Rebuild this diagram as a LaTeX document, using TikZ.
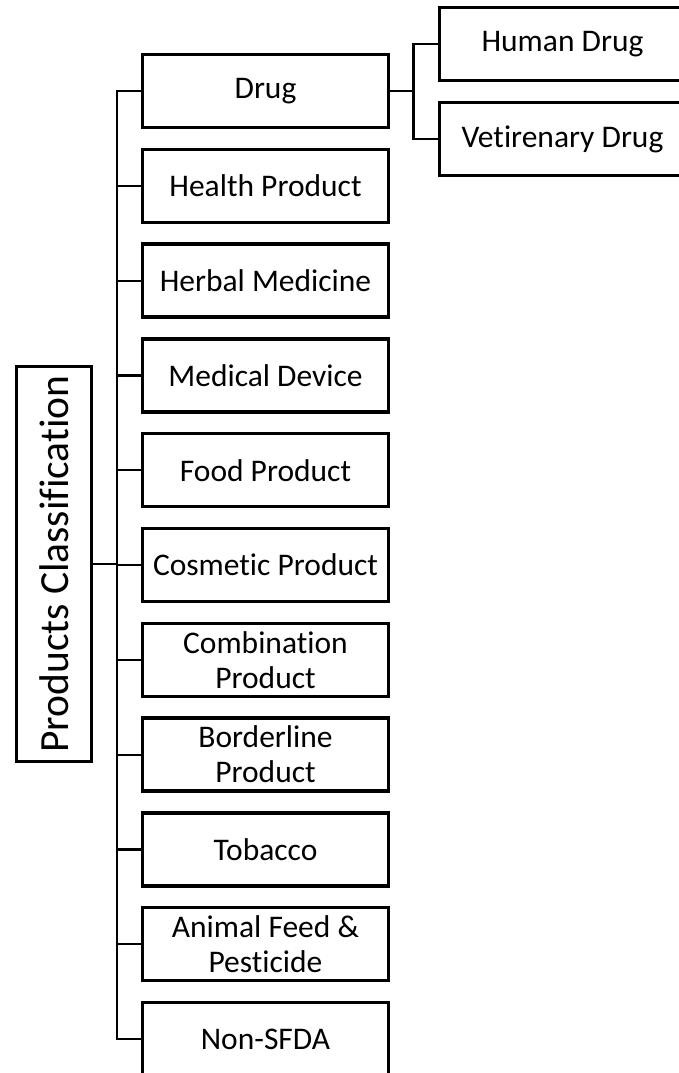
\documentclass[tikz,border=0pt]{standalone}
\usepackage{fontspec}
\setmainfont{Carlito}[Ligatures=CommonOff]
\usetikzlibrary{positioning}

\begin{document}
\begin{tikzpicture}[
  x=1pt, y=1pt,
  catbox/.style={rectangle, draw=black, line width=3.4pt, fill=white, outer sep=0pt, inner sep=2pt, minimum width=246pt, minimum height=73pt, align=center, font=\fontsize{31.5}{35}\selectfont},
  titlebox/.style={rectangle, draw=black, line width=3.2pt, fill=white, outer sep=0pt, inner sep=2pt, minimum width=395pt, minimum height=75pt, rotate=90, font=\fontsize{41.5}{46}\selectfont},
  link/.style={draw=black, line width=2.2pt}
]
\useasboundingbox (0,0) rectangle (678,-1073);
% main column
\node[catbox] (drug) at (265.5,-91) {Drug};
\node[catbox, below=21.8pt of drug] (health) {Health Product};
\node[catbox, below=21.8pt of health] (herbal) {Herbal Medicine};
\node[catbox, below=21.8pt of herbal] (device) {Medical Device};
\node[catbox, below=21.8pt of device] (food) {Food Product};
\node[catbox, below=21.8pt of food] (cosmetic) {Cosmetic Product};
\node[catbox, below=21.8pt of cosmetic] (combo) {Combination\\Product};
\node[catbox, below=21.8pt of combo] (border) {Borderline\\Product};
\node[catbox, below=21.8pt of border] (tobacco) {Tobacco};
\node[catbox, below=21.8pt of tobacco] (feed) {Animal Feed \&\\Pesticide};
\node[catbox, below=21.8pt of feed] (nonsfda) {Non-SFDA};
% drug sub-types
\node[catbox, right=51pt of drug, yshift=47pt] (human) {Human Drug};
\node[catbox, below=22pt of human] (vet) {Vetirenary Drug};
% root
\node[titlebox] (title) at (54,-564) {Products Classification};

% connectors
\coordinate (trunk) at ([xshift=-25.5pt]drug.west);
\draw[link] (drug.west) -| (trunk |- nonsfda.west) -- (nonsfda.west);
\foreach \n in {health,herbal,device,food,cosmetic,combo,border,tobacco,feed}
  \draw[link] (\n.west) -- (\n.west -| trunk);
\draw[link] (title.south) -- (title.south -| trunk);

\coordinate (fork) at ([xshift=25pt]drug.east);
\draw[link] (drug.east) -- (fork);
\draw[link] (human.west) -| (fork) |- (vet.west);
\end{tikzpicture}
\end{document}
